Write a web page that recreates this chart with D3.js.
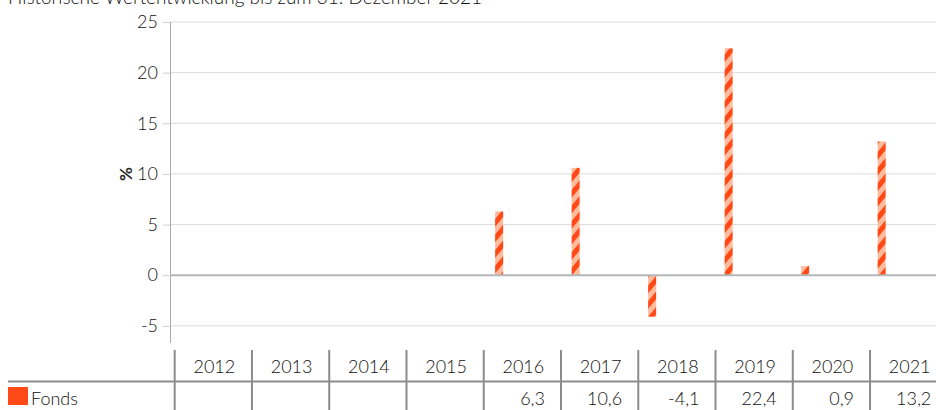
<!DOCTYPE html>
<html>
<head>
<meta charset="utf-8">
<script src="https://cdn.jsdelivr.net/npm/d3@7"></script>
<style>
  html, body { margin: 0; padding: 0; background: #fff; }
  svg { display: block; font-family: Lato, 'DejaVu Sans', sans-serif; font-weight: 300; }
</style>
</head>
<body>
<svg id="chart" width="936" height="410"></svg>
<script>
const years = ['2012', '2013', '2014', '2015', '2016', '2017', '2018', '2019', '2020', '2021'];
const fonds = [null, null, null, null, 6.3, 10.6, -4.1, 22.4, 0.9, 13.2];
const yTicks = [-5, 0, 5, 10, 15, 20, 25];
const seriesName = 'Fonds';
const title = 'Historische Wertentwicklung bis zum 31. Dezember 2021';

const svg = d3.select('#chart');
const W = 936;
const ink = '#111';

const y = d3.scaleLinear().domain([-6.4, 25]).range([340, 22]);
const x = d3.scaleBand().domain(years).range([170, 935]);
const xt = d3.scaleBand().domain(years).range([174.7, 174.7 + 10 * 77.26]);

// stripe pattern, "/" direction
const pat = svg.append('defs').append('pattern')
  .attr('id', 'stripes')
  .attr('patternUnits', 'userSpaceOnUse')
  .attr('width', 10).attr('height', 10)
  .attr('patternTransform', 'rotate(40)');
pat.append('rect').attr('width', 10).attr('height', 10).attr('fill', '#ffbb9c');
pat.append('rect').attr('width', 5).attr('height', 10).attr('fill', '#ff4a17');

svg.append('text')
  .attr('x', 8).attr('y', 4)
  .attr('font-size', 19).attr('fill', ink)
  .text(title);

// grid
svg.append('g').selectAll('line')
  .data(yTicks.filter(d => d !== 0))
  .join('line')
  .attr('x1', 170).attr('x2', W)
  .attr('y1', d => y(d)).attr('y2', d => y(d))
  .attr('stroke', '#dcdcdc').attr('stroke-width', 1);

// y axis
const yAxis = svg.append('g')
  .attr('transform', 'translate(170,0)')
  .call(d3.axisLeft(y).tickValues(yTicks).tickSize(7).tickPadding(5).tickFormat(d => d < 0 ? '-' + Math.abs(d) : d));
yAxis.select('.domain').remove();
yAxis.selectAll('.tick line').attr('stroke', '#d0d0d0');
yAxis.selectAll('.tick text').attr('font-size', 18).attr('fill', ink)
  .attr('font-family', 'Lato, sans-serif').attr('font-weight', 300);
svg.append('line')
  .attr('x1', 170.5).attr('x2', 170.5).attr('y1', y(25)).attr('y2', 343)
  .attr('stroke', '#aaa').attr('stroke-width', 1);

svg.append('text')
  .attr('transform', `translate(126,${y(10)}) rotate(-90)`)
  .attr('text-anchor', 'middle').attr('dy', '0.35em')
  .attr('font-size', 17).attr('font-weight', 'bold').attr('fill', '#222')
  .text('%');

// bars
const data = years.map((yr, i) => ({ year: yr, value: fonds[i] })).filter(d => d.value !== null);
svg.append('g').selectAll('rect')
  .data(data)
  .join('rect')
  .attr('x', d => x(d.year) + x.bandwidth() * 0.25)
  .attr('width', x.bandwidth() * 0.105)
  .attr('y', d => y(Math.max(0, d.value)))
  .attr('height', d => Math.abs(y(d.value) - y(0)))
  .attr('fill', 'url(#stripes)');

// zero line
svg.append('line')
  .attr('x1', 170).attr('x2', W).attr('y1', y(0)).attr('y2', y(0))
  .attr('stroke', '#b4b7ba').attr('stroke-width', 2);

// table
const table = svg.append('g');
table.append('line')
  .attr('x1', 8).attr('x2', W).attr('y1', 381.5).attr('y2', 381.5)
  .attr('stroke', '#8c8c8c').attr('stroke-width', 2);
table.selectAll('line.col')
  .data(years)
  .join('line')
  .attr('class', 'col')
  .attr('x1', d => xt(d)).attr('x2', d => xt(d))
  .attr('y1', 350).attr('y2', 410)
  .attr('stroke', '#8c8c8c').attr('stroke-width', 2);
table.selectAll('text.yr')
  .data(years)
  .join('text')
  .attr('class', 'yr')
  .attr('x', d => xt(d) + xt.bandwidth() / 2 + 1)
  .attr('y', 373)
  .attr('text-anchor', 'middle')
  .attr('font-size', 18).attr('fill', ink)
  .text(d => d);
table.selectAll('text.val')
  .data(data)
  .join('text')
  .attr('class', 'val')
  .attr('x', d => xt(d.year) + xt.bandwidth() - 16)
  .attr('y', 405)
  .attr('text-anchor', 'end')
  .attr('font-size', 18).attr('fill', ink)
  .text(d => d3.format('.1f')(d.value).replace('.', ',').replace('\u2212', '-'));

table.append('rect')
  .attr('x', 8).attr('y', 387).attr('width', 20).attr('height', 18)
  .attr('fill', '#ff4a17');
table.append('text')
  .attr('x', 31).attr('y', 405)
  .attr('font-size', 18).attr('fill', ink)
  .text(seriesName);
</script>
</body>
</html>
